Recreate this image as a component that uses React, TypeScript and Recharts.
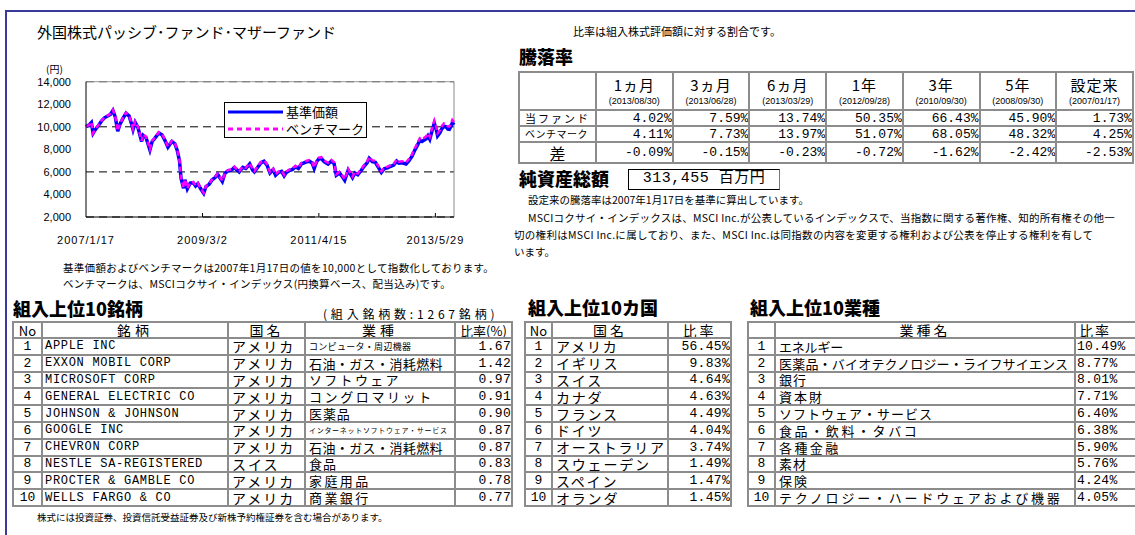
import { LineChart, Line, XAxis, YAxis, CartesianGrid, ReferenceLine, Legend } from 'recharts'

// chart series (indexed to 10,000 on 2007/1/17)
const DATES = [
  '2007/1/17', '2007/2/5', '2007/2/22', '2007/3/5', '2007/3/20', '2007/4/10', '2007/5/1', '2007/5/20',
  '2007/6/10', '2007/6/28', '2007/7/15', '2007/7/31', '2007/8/16', '2007/9/1', '2007/9/20', '2007/10/10',
  '2007/10/31', '2007/11/15', '2007/11/26', '2007/12/10', '2007/12/28', '2008/1/22', '2008/2/1', '2008/2/20',
  '2008/3/17', '2008/4/1', '2008/4/20', '2008/5/15', '2008/6/5', '2008/6/25', '2008/7/15', '2008/8/10',
  '2008/8/30', '2008/9/15', '2008/9/30', '2008/10/10', '2008/10/27', '2008/11/5', '2008/11/21', '2008/12/10',
  '2008/12/30', '2009/1/15', '2009/1/30', '2009/2/18', '2009/3/10', '2009/3/25', '2009/4/15', '2009/5/5',
  '2009/5/25', '2009/6/10', '2009/6/30', '2009/7/12', '2009/7/30', '2009/8/20', '2009/9/10', '2009/9/30',
  '2009/10/15', '2009/11/1', '2009/11/25', '2009/12/15', '2010/1/10', '2010/1/30', '2010/2/10', '2010/3/1',
  '2010/3/25', '2010/4/15', '2010/5/5', '2010/5/25', '2010/6/15', '2010/7/1', '2010/7/20', '2010/8/10',
  '2010/8/27', '2010/9/10', '2010/9/30', '2010/10/20', '2010/11/10', '2010/11/30', '2010/12/20', '2011/1/15',
  '2011/2/10', '2011/3/1', '2011/3/15', '2011/3/31', '2011/4/15', '2011/5/1', '2011/5/20', '2011/6/15',
  '2011/7/7', '2011/7/25', '2011/8/9', '2011/8/30', '2011/9/22', '2011/10/4', '2011/10/27', '2011/11/25',
  '2011/12/10', '2011/12/30', '2012/1/20', '2012/2/10', '2012/3/1', '2012/3/15', '2012/4/5', '2012/4/25',
  '2012/5/15', '2012/6/4', '2012/6/25', '2012/7/15', '2012/8/5', '2012/8/25', '2012/9/14', '2012/9/28',
  '2012/10/20', '2012/11/15', '2012/12/5', '2012/12/25', '2013/1/15', '2013/1/31', '2013/2/15', '2013/3/1',
  '2013/3/29', '2013/4/10', '2013/4/22', '2013/5/10', '2013/5/22', '2013/6/5', '2013/6/13', '2013/6/28',
  '2013/7/10', '2013/7/25', '2013/8/8', '2013/8/20', '2013/8/30', '2013/9/10', '2013/9/19', '2013/9/30',
]
const FUND = [
  10000, 10150, 10380, 9420, 9750, 10120, 10520, 10800, 10950, 11100, 11450, 10850, 9600, 10250, 10750, 11200,
  10950, 10300, 9750, 10400, 9950, 8700, 9250, 9050, 7950, 8700, 9000, 9450, 9300, 8800, 8200, 8700,
  8500, 7900, 6970, 5450, 4550, 5300, 4500, 5000, 5050, 4750, 4950, 4500, 4100, 4700, 4900, 5300,
  5500, 5800, 5400, 5150, 5900, 6100, 6150, 6400, 6200, 6000, 6400, 6300, 6700, 6150, 6000, 6350,
  6800, 6950, 6600, 5900, 6200, 5700, 5950, 6050, 5650, 5950, 6110, 6200, 6450, 6300, 6700, 6850,
  6950, 6800, 6300, 6900, 7150, 7200, 6900, 6700, 6950, 6750, 5700, 5900, 5500, 5250, 6150, 5500,
  5900, 5750, 6100, 6500, 6800, 7200, 6900, 6850, 6400, 5950, 6300, 6350, 6500, 6600, 6950, 6770,
  6800, 6700, 7000, 7400, 8000, 8400, 8800, 8700, 8940, 9200, 8900, 9800, 10300, 9700, 9200, 9460,
  9800, 10050, 10000, 9800, 9780, 10050, 10350, 10170,
]
const BENCH = [
  10000, 10160, 10400, 9440, 9770, 10150, 10550, 10840, 10990, 11150, 11500, 10900, 9650, 10300, 10800, 11260,
  11010, 10360, 9810, 10460, 10010, 8760, 9310, 9110, 8000, 8760, 9060, 9520, 9370, 8860, 8260, 8760,
  8560, 7960, 7030, 5500, 4590, 5350, 4540, 5050, 5100, 4800, 5000, 4540, 4140, 4750, 4950, 5350,
  5560, 5860, 5460, 5200, 5960, 6160, 6210, 6460, 6260, 6060, 6470, 6370, 6770, 6220, 6070, 6420,
  6880, 7030, 6680, 5970, 6280, 5770, 6030, 6130, 5730, 6030, 6200, 6290, 6540, 6390, 6800, 6950,
  7050, 6900, 6390, 7000, 7260, 7310, 7010, 6810, 7060, 6860, 5790, 6000, 5590, 5340, 6250, 5590,
  6000, 5850, 6210, 6610, 6920, 7330, 7020, 6970, 6510, 6060, 6410, 6470, 6620, 6730, 7080, 6900,
  6940, 6840, 7150, 7560, 8170, 8580, 8990, 8890, 9150, 9410, 9110, 10030, 10540, 9930, 9420, 9680,
  10030, 10290, 10240, 10030, 10010, 10290, 10600, 10420,
]
const Y_TICKS = [2000, 4000, 6000, 8000, 10000, 12000, 14000]
const X_TICK_LABELS = ['2007/1/17', '2009/3/2', '2011/4/15', '2013/5/29']
const END_DATE = '2013/9/30'
const SERIES_NAMES = ['基準価額', 'ベンチマーク']

// performance table
const PERIODS = ['1ヵ月', '3ヵ月', '6ヵ月', '1年', '3年', '5年', '設定来']
const PERIOD_DATES = ['(2013/08/30)', '(2013/06/28)', '(2013/03/29)', '(2012/09/28)', '(2010/09/30)', '(2008/09/30)', '(2007/01/17)']
const ROW_LABELS = ['当ファンド', 'ベンチマーク', '差']
const FUND_RET = ['4.02%', '7.59%', '13.74%', '50.35%', '66.43%', '45.90%', '1.73%']
const BENCH_RET = ['4.11%', '7.73%', '13.97%', '51.07%', '68.05%', '48.32%', '4.25%']
const DIFF_RET = ['-0.09%', '-0.15%', '-0.23%', '-0.72%', '-1.62%', '-2.42%', '-2.53%']
const NET_ASSETS = '313,455 百万円'

// holdings
const STOCKS = [
  'APPLE INC', 'EXXON MOBIL CORP', 'MICROSOFT CORP', 'GENERAL ELECTRIC CO', 'JOHNSON & JOHNSON',
  'GOOGLE INC', 'CHEVRON CORP', 'NESTLE SA-REGISTERED', 'PROCTER & GAMBLE CO', 'WELLS FARGO & CO',
]
const STOCK_COUNTRY = ['アメリカ', 'アメリカ', 'アメリカ', 'アメリカ', 'アメリカ', 'アメリカ', 'アメリカ', 'スイス', 'アメリカ', 'アメリカ']
const STOCK_SECTOR = [
  'コンピュータ・周辺機器', '石油・ガス・消耗燃料', 'ソフトウェア', 'コングロマリット', '医薬品',
  'インターネットソフトウェア・サービス', '石油・ガス・消耗燃料', '食品', '家庭用品', '商業銀行',
]
const STOCK_WEIGHT = ['1.67', '1.42', '0.97', '0.91', '0.90', '0.87', '0.87', '0.83', '0.78', '0.77']
const COUNTRIES = ['アメリカ', 'イギリス', 'スイス', 'カナダ', 'フランス', 'ドイツ', 'オーストラリア', 'スウェーデン', 'スペイン', 'オランダ']
const COUNTRY_WEIGHT = ['56.45%', '9.83%', '4.64%', '4.63%', '4.49%', '4.04%', '3.74%', '1.49%', '1.47%', '1.45%']
const SECTORS = [
  'エネルギー', '医薬品・バイオテクノロジー・ライフサイエンス', '銀行', '資本財', 'ソフトウェア・サービス',
  '食品・飲料・タバコ', '各種金融', '素材', '保険', 'テクノロジー・ハードウェアおよび機器',
]
const SECTOR_WEIGHT = ['10.49%', '8.77%', '8.01%', '7.71%', '6.40%', '6.38%', '5.90%', '5.76%', '4.24%', '4.05%']

// per-row text fitting (styles, not data)
const STOCK_SECTOR_FONT = [9, 13, 13, 13, 13, 7, 13, 13, 13, 13]
const STOCK_SECTOR_SPACING = [0.3, 0.4, 2.3, 2.6, 0.9, 0.7, 0.4, 1, 2.4, 2.4]
const SECTOR_SPACING = [-0.2, 0.2, 1, 2, 1, 2.6, 2.4, 1, 2, 2.8]

const JP = "'Noto Sans CJK JP', sans-serif"
const MONO = "'Liberation Mono', 'Noto Sans CJK JP', monospace"
const ARIAL = "'Liberation Sans', Arial, sans-serif"
const LINE = '#8c8c8c'
const FRAME = '#3a3a9c'

const toTime = (s: string) => {
  const [y, m, d] = s.split('/').map(Number)
  return Date.UTC(y, m - 1, d)
}

const data = DATES.map((d, i) => ({ t: toTime(d), fund: FUND[i], bench: BENCH[i] }))
const xTicks = X_TICK_LABELS.map(toTime)
const startT = toTime(DATES[0])
const endT = toTime(END_DATE)

function XTick(props: any) {
  const { x, y, index } = props
  return (
    <g>
      {index > 0 && <line x1={x} x2={x} y1={y} y2={y - 4} stroke="#000" />}
      <text x={x} y={y + 27} textAnchor="middle" fontSize={11} fontFamily={ARIAL} letterSpacing={1} fill="#000">
        {X_TICK_LABELS[index]}
      </text>
    </g>
  )
}

function LegendBox() {
  return (
    <div style={{ width: 143, height: 36, boxSizing: 'border-box', border: '1px solid #000', background: '#fff', fontFamily: JP, fontSize: 13, lineHeight: '16px', padding: '1px 0 0 3px', whiteSpace: 'nowrap' }}>
      <div style={{ display: 'flex', alignItems: 'center', height: 16 }}>
        <svg width={56} height={6}><line x1={0} x2={55} y1={3} y2={3} stroke="#0000ff" strokeWidth={3} /></svg>
        <span style={{ marginLeft: 2 }}>{SERIES_NAMES[0]}</span>
      </div>
      <div style={{ display: 'flex', alignItems: 'center', height: 17 }}>
        <svg width={56} height={6}><line x1={0} x2={55} y1={3} y2={3} stroke="#ff00ff" strokeWidth={3} strokeDasharray="5 4" /></svg>
        <span style={{ marginLeft: 2 }}>{SERIES_NAMES[1]}</span>
      </div>
    </div>
  )
}

function PriceChart() {
  return (
    <div style={{ position: 'absolute', left: 0, top: 60 }}>
      <LineChart width={480} height={200} data={data} margin={{ top: 21.7, right: 26, left: 0, bottom: 13 }}>
        <CartesianGrid vertical={false} stroke="#000" strokeDasharray="8 5" />
        <XAxis
          dataKey="t"
          type="number"
          domain={[startT, endT]}
          ticks={xTicks}
          interval={0}
          tick={<XTick />}
          tickLine={false}
          tickSize={0}
          tickMargin={0}
          height={30}
          axisLine={{ stroke: '#000' }}
        />
        <YAxis
          domain={[2000, 14000]}
          ticks={Y_TICKS}
          width={86}
          tickLine={false}
          tickMargin={9}
          axisLine={{ stroke: '#000' }}
          tick={{ fontSize: 11, fill: '#000', fontFamily: ARIAL }}
          tickFormatter={(v: number) => v.toLocaleString('en-US')}
        />
        <ReferenceLine y={14000} stroke="#999" />
        <ReferenceLine x={endT} stroke="#888" />
        <Line dataKey="fund" stroke="#0000ff" strokeWidth={3.5} dot={false} isAnimationActive={false} />
        <Line dataKey="bench" stroke="#ff00ff" strokeWidth={2.5} strokeDasharray="5 3" dot={false} isAnimationActive={false} />
        <Legend
          verticalAlign="middle"
          align="center"
          layout="horizontal"
          content={<LegendBox />}
          wrapperStyle={{ left: 224, top: 42, width: 143, height: 36 }}
        />
      </LineChart>
    </div>
  )
}

function Txt({ x, y, size, children, bold, spacing, font }: any) {
  return (
    <div style={{
      position: 'absolute', left: x, top: y - size * 0.7, fontSize: size, lineHeight: `${size * 1.4}px`,
      whiteSpace: 'nowrap', fontWeight: bold ? 900 : 400, letterSpacing: spacing ?? 0, fontFamily: font ?? JP,
    }}>
      {children}
    </div>
  )
}

type CellSpec = { text?: any; align?: 'left' | 'center' | 'right'; style?: any } | null

// Excel-like grid: grey 2px rules, fixed row heights
function Grid({ x, y, cols, rows, cell }: { x: number; y: number; cols: number[]; rows: number[]; cell: (r: number, c: number) => CellSpec }) {
  const cx = [x]
  cols.forEach((w) => cx.push(cx[cx.length - 1] + w))
  const ry = [y]
  rows.forEach((h) => ry.push(ry[ry.length - 1] + h))
  const W = cx[cx.length - 1] - x
  const H = ry[ry.length - 1] - y
  const cells: any[] = []
  rows.forEach((h, r) => cols.forEach((w, c) => {
    const k = cell(r, c)
    if (!k) return
    const a = k.align ?? 'left'
    cells.push(
      <div key={`c${r}-${c}`} style={{
        position: 'absolute', left: cx[c] + 1, top: ry[r] + 1, width: w - 2, height: h - 2,
        display: 'flex', alignItems: 'center', justifyContent: a === 'left' ? 'flex-start' : a === 'right' ? 'flex-end' : 'center',
        whiteSpace: 'nowrap', lineHeight: 1, fontFamily: JP, ...k.style,
      }}>{k.text}</div>,
    )
  }))
  return (
    <>
      {cells}
      {ry.map((yy, i) => <div key={`h${i}`} style={{ position: 'absolute', left: x - 1, top: yy - 1, width: W + 2, height: 2, background: LINE }} />)}
      {cx.map((xx, i) => <div key={`v${i}`} style={{ position: 'absolute', left: xx - 1, top: y - 1, width: 2, height: H + 2, background: LINE }} />)}
    </>
  )
}

function PerfTable() {
  const rows = [FUND_RET, BENCH_RET, DIFF_RET]
  return (
    <Grid
      x={519}
      y={72}
      cols={[77, 76.7, 76.7, 76.7, 76.7, 76.7, 76.7, 76.7]}
      rows={[38, 16, 16, 21]}
      cell={(r, c) => {
        if (r === 0) {
          if (c === 0) return null
          return {
            align: 'center',
            style: { flexDirection: 'column' },
            text: (
              <>
                <div style={{ fontSize: 15, letterSpacing: 1 }}>{PERIODS[c - 1]}</div>
                <div style={{ fontSize: 9, fontFamily: ARIAL, marginTop: 5 }}>{PERIOD_DATES[c - 1]}</div>
              </>
            ),
          }
        }
        if (c === 0) {
          const sz = [11, 10, 16][r - 1]
          const sp = [2, 0.5, 0][r - 1]
          return { text: ROW_LABELS[r - 1], align: r === 3 ? 'center' : 'left', style: { fontSize: sz, letterSpacing: sp, paddingLeft: r === 3 ? 0 : 5 } }
        }
        return { text: rows[r - 1][c - 1], align: 'right', style: { fontFamily: MONO, fontSize: 13, letterSpacing: 0, paddingRight: 2 } }
      }}
    />
  )
}

const rows10 = [16, 16.8, 16.8, 16.8, 16.8, 16.8, 16.8, 16.8, 16.8, 16.8, 16.8]
const TABLE_TOP = 322

function StockTable() {
  const headers = ['No', '銘柄', '国名', '業種', '比率(%)']
  return (
    <Grid
      x={13}
      y={TABLE_TOP}
      cols={[29, 186, 77, 150, 57]}
      rows={rows10}
      cell={(r, c) => {
        if (r === 0) return { text: headers[c], align: 'center', style: { fontSize: c === 0 || c === 4 ? 13 : 14, letterSpacing: c === 1 || c === 3 ? 4 : c === 2 ? 3 : 0 } }
        const i = r - 1
        if (c === 0) return { text: i + 1, align: 'center', style: { fontFamily: MONO, fontSize: 13 } }
        if (c === 1) return { text: STOCKS[i], style: { fontFamily: MONO, fontSize: 12, letterSpacing: 0.7, paddingLeft: 2 } }
        if (c === 2) return { text: STOCK_COUNTRY[i], style: { fontSize: 14, letterSpacing: 2, paddingLeft: 3 } }
        if (c === 3) return { text: STOCK_SECTOR[i], style: { fontSize: STOCK_SECTOR_FONT[i], letterSpacing: STOCK_SECTOR_SPACING[i], paddingLeft: 3 } }
        return { text: STOCK_WEIGHT[i], align: 'right', style: { fontFamily: MONO, fontSize: 13, letterSpacing: 0.3, paddingRight: 9 } }
      }}
    />
  )
}

function CountryTable() {
  const headers = ['No', '国名', '比率']
  return (
    <Grid
      x={525}
      y={TABLE_TOP}
      cols={[27, 116, 63]}
      rows={rows10}
      cell={(r, c) => {
        if (r === 0) return { text: headers[c], align: 'center', style: { fontSize: c === 0 ? 13 : 14, letterSpacing: c === 0 ? 0 : 3 } }
        const i = r - 1
        if (c === 0) return { text: i + 1, align: 'center', style: { fontFamily: MONO, fontSize: 13 } }
        if (c === 1) return { text: COUNTRIES[i], style: { fontSize: 14, letterSpacing: 1.8, paddingLeft: 3 } }
        return { text: COUNTRY_WEIGHT[i], align: 'right', style: { fontFamily: MONO, fontSize: 13, letterSpacing: 0.3 } }
      }}
    />
  )
}

function SectorTable() {
  return (
    <Grid
      x={748}
      y={TABLE_TOP}
      cols={[27, 300, 65]}
      rows={rows10}
      cell={(r, c) => {
        if (r === 0) {
          if (c === 0) return null
          return c === 1
            ? { text: '業種名', align: 'center', style: { fontSize: 14, letterSpacing: 3 } }
            : { text: '比率', style: { fontSize: 14, letterSpacing: 2, paddingLeft: 3 } }
        }
        const i = r - 1
        if (c === 0) return { text: i + 1, align: 'center', style: { fontFamily: MONO, fontSize: 13 } }
        if (c === 1) return { text: SECTORS[i], style: { fontSize: 13, letterSpacing: SECTOR_SPACING[i], paddingLeft: 3 } }
        return { text: SECTOR_WEIGHT[i], style: { fontFamily: MONO, fontSize: 13, letterSpacing: 0.3, paddingLeft: 1 } }
      }}
    />
  )
}

export default function App() {
  return (
    <div style={{ position: 'absolute', left: 0, top: 0, width: 1135, height: 535, background: '#fff', overflow: 'hidden', fontFamily: JP, color: '#000' }}>
      <div style={{ position: 'absolute', left: 6, top: 10, width: 1129, height: 2, background: FRAME }} />
      <div style={{ position: 'absolute', left: 5, top: 10, width: 2, height: 525, background: FRAME }} />

      <Txt x={37} y={31} size={15}>外国株式パッシブ･ファンド･マザーファンド</Txt>
      <Txt x={46} y={69} size={10}>(円)</Txt>
      <PriceChart />
      <Txt x={63} y={268} size={10.5} spacing={0.3}>基準価額およびベンチマークは2007年1月17日の値を10,000として指数化しております。</Txt>
      <Txt x={63} y={284} size={10.5} spacing={0.3}>ベンチマークは、MSCIコクサイ・インデックス(円換算ベース、配当込み)です。</Txt>

      <Txt x={573} y={32} size={11}>比率は組入株式評価額に対する割合です。</Txt>
      <Txt x={519} y={57} size={18} bold>騰落率</Txt>
      <PerfTable />
      <Txt x={519} y={179} size={18} bold>純資産総額</Txt>
      <div style={{ position: 'absolute', left: 628, top: 169, width: 152, height: 21, boxSizing: 'border-box', border: '1.5px solid #000', borderRightColor: '#777', fontFamily: MONO, fontSize: 15, lineHeight: '18px', textAlign: 'center', letterSpacing: 0.5 }}>
        {NET_ASSETS}
      </div>
      <Txt x={528} y={200} size={10.5}>設定来の騰落率は2007年1月17日を基準に算出しています。</Txt>
      <Txt x={528} y={218} size={10.5} spacing={0.25}>MSCIコクサイ・インデックスは、MSCI Inc.が公表しているインデックスで、当指数に関する著作権、知的所有権その他一</Txt>
      <Txt x={514} y={235} size={10.5} spacing={0.3}>切の権利はMSCI Inc.に属しており、また、MSCI Inc.は同指数の内容を変更する権利および公表を停止する権利を有して</Txt>
      <Txt x={514} y={252} size={10.5}>います。</Txt>

      <Txt x={13} y={309} size={18} bold>組入上位10銘柄</Txt>
      <Txt x={323} y={314} size={12} spacing={3.8}>(組入銘柄数:1267銘柄)</Txt>
      <StockTable />
      <Txt x={528} y={308} size={18} bold>組入上位10カ国</Txt>
      <CountryTable />
      <Txt x={750} y={308} size={18} bold>組入上位10業種</Txt>
      <SectorTable />
      <Txt x={37} y={518} size={9.5}>株式には投資証券、投資信託受益証券及び新株予約権証券を含む場合があります。</Txt>
    </div>
  )
}
